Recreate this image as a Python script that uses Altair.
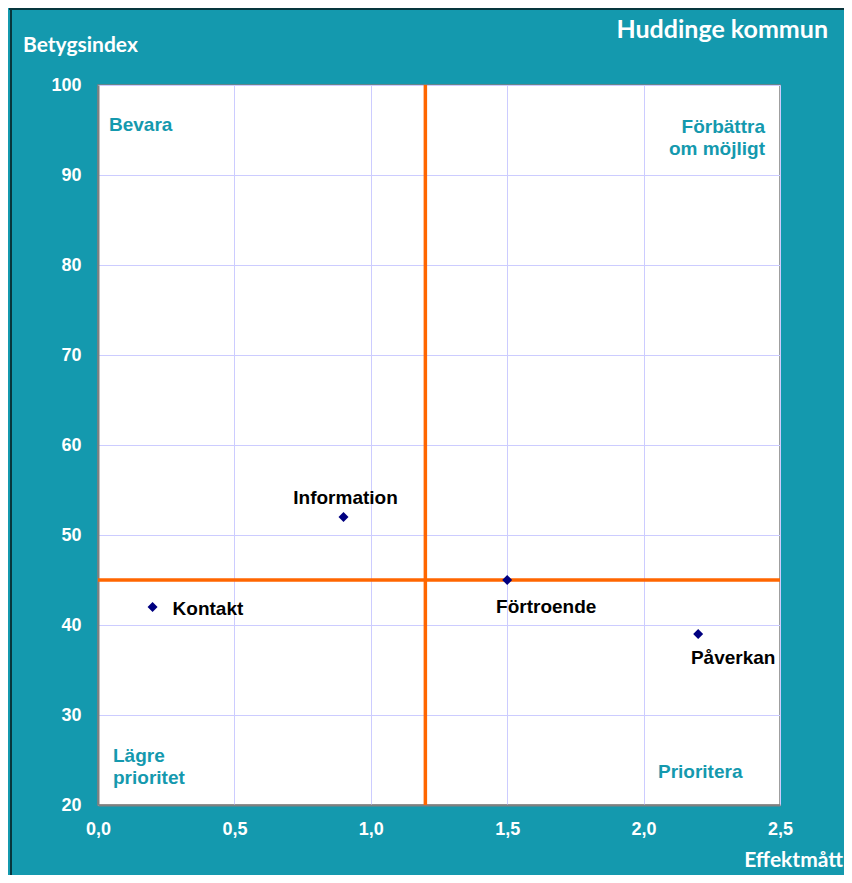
import altair as alt
import pandas as pd

# Data
names = ["Information", "Kontakt", "Förtroende", "Påverkan"]
effekt = [0.9, 0.2, 1.5, 2.2]
betyg = [52, 42, 45, 39]
x_ticks = [0.0, 0.5, 1.0, 1.5, 2.0, 2.5]
y_ticks = [20, 30, 40, 50, 60, 70, 80, 90, 100]
x_ref = [1.2]
y_ref = [45]

TEAL = "#1499AE"
df = pd.DataFrame({"name": names, "x": effekt, "y": betyg})

W, H = 682, 720
xs = alt.Scale(domain=[0, 2.5], nice=False, zero=False)
ys = alt.Scale(domain=[20, 100], nice=False, zero=False)

lab_font = "Liberation Sans"

base = alt.Chart(df)

points = base.mark_point(shape="diamond", filled=True, size=100, color="#000080", opacity=1).encode(
    x=alt.X("x:Q", scale=xs, axis=alt.Axis(
        values=x_ticks, title=None, labelExpr="replace(format(datum.value, '.1f'), '.', ',')",
        grid=True, gridColor="#CCCCFF", ticks=False, labelPadding=15, labelFlush=False,
        domainColor="#808080", domainWidth=2)),
    y=alt.Y("y:Q", scale=ys, axis=alt.Axis(
        values=y_ticks, title=None, grid=True, gridColor="#CCCCFF", ticks=False,
        labelPadding=17, labelFlush=False, domainColor="#808080", domainWidth=2)),
)

vrule = alt.Chart(pd.DataFrame({"x": x_ref})).mark_rule(color="#FF6600", strokeWidth=3.5).encode(
    x=alt.X("x:Q", scale=xs))
hrule = alt.Chart(pd.DataFrame({"y": y_ref})).mark_rule(color="#FF6600", strokeWidth=3.5).encode(
    y=alt.Y("y:Q", scale=ys))

# thin dark frame on top and left of the chart panel
frame_top = alt.Chart(pd.DataFrame({"a": [0]})).mark_rule(color="#07363d", strokeWidth=2).encode(
    x=alt.value(-89), x2=alt.value(760), y=alt.value(-76))
frame_left = alt.Chart(pd.DataFrame({"a": [0]})).mark_rule(color="#07363d", strokeWidth=2).encode(
    x=alt.value(-87), y=alt.value(-77), y2=alt.value(800))

def plabel(name, dx, dy, align):
    return base.transform_filter(alt.datum.name == name).mark_text(
        font=lab_font, fontWeight="bold", fontSize=19, color="black",
        align=align, baseline="middle", dx=dx, dy=dy).encode(
        x=alt.X("x:Q", scale=xs), y=alt.Y("y:Q", scale=ys), text="name:N")

labels = [
    plabel("Information", 2, -19, "center"),
    plabel("Kontakt", 20, 2, "left"),
    plabel("Förtroende", 39, 27, "center"),
    plabel("Påverkan", 35, 24, "center"),
]

def ann(text, x, y, align, color=TEAL, font=lab_font, size=19):
    return alt.Chart(pd.DataFrame({"t": [text]})).mark_text(
        font=font, fontWeight="bold", fontSize=size, color=color,
        align=align, baseline="middle").encode(
        x=alt.value(x), y=alt.value(y), text="t:N")

anns = [
    ann("Bevara", 11, 40, "left"),
    ann("Förbättra", 667, 42, "right"),
    ann("om möjligt", 667, 64, "right"),
    ann("Lägre", 15, 671, "left"),
    ann("prioritet", 15, 693, "left"),
    ann("Prioritera", 560, 687, "left"),
    ann("Huddinge kommun", 730, -55, "right", color="white", font="Lato", size=25),
    ann("Betygsindex", -75, -39, "left", color="white", font="Lato", size=21),
    ann("Effektmått", 745, 776, "right", color="white", font="Lato", size=21),
]

chart = alt.layer(frame_top, frame_left, vrule, hrule, points, *labels, *anns).properties(
    width=W, height=H,
    background=TEAL,
    padding={"left": 90, "top": 77, "right": 64, "bottom": 70},
    autosize=alt.AutoSizeParams(type="none"),
).configure_view(
    fill="white", stroke="#808080", strokeWidth=1.5
).configure_axis(
    labelFont=lab_font, labelFontWeight="bold", labelFontSize=18, labelColor="white",
)

chart.save("out.html", embed_options={"renderer": "svg", "actions": False})
